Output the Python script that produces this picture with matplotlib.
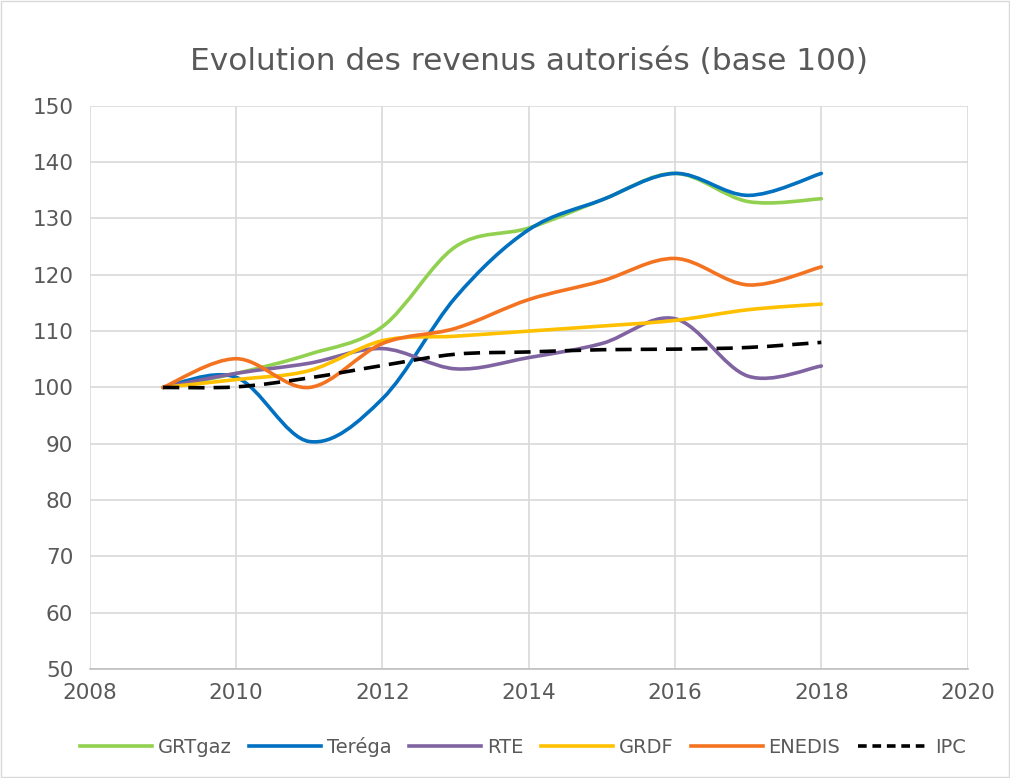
import matplotlib
matplotlib.use("Agg")
import matplotlib.pyplot as plt
import numpy as np
from matplotlib.lines import Line2D
from matplotlib.patches import PathPatch
from matplotlib.path import Path

years = [2009, 2010, 2011, 2012, 2013, 2014, 2015, 2016, 2017, 2018]
grtgaz = [100, 102.5, 105.9, 110.8, 125.0, 128.3, 133.3, 138.0, 133.0, 133.5]
terega = [100, 101.8, 90.4, 98.0, 116.0, 128.0, 133.3, 138.0, 134.1, 138.0]
rte = [100, 102.5, 104.3, 106.9, 103.3, 105.3, 107.8, 112.2, 102.0, 103.8]
grdf = [100, 101.4, 103.0, 108.3, 109.1, 110.0, 110.9, 111.9, 113.8, 114.8]
enedis = [100, 105.1, 100.0, 107.8, 110.5, 115.6, 118.9, 122.9, 118.2, 121.4]
ipc = [100, 100.1, 101.7, 103.9, 105.9, 106.3, 106.7, 106.8, 107.1, 108.0]

series = [
    ("GRTgaz", grtgaz, "#92d050", "-"),
    ("Teréga", terega, "#0070c0", "-"),
    ("RTE", rte, "#8064a2", "-"),
    ("GRDF", grdf, "#ffc000", "-"),
    ("ENEDIS", enedis, "#f47321", "-"),
    ("IPC", ipc, "#000000", "--"),
]

plt.rcParams["font.family"] = ["DejaVu Sans"]
text_color = "#595959"


def smooth_path(xs, ys):
    # Excel-style smoothed line: cubic Bezier segments with control points from neighbours
    pts = np.column_stack([xs, ys]).astype(float)
    n = len(pts)
    verts = [pts[0]]
    codes = [Path.MOVETO]
    for i in range(n - 1):
        p0 = pts[i - 1] if i > 0 else pts[i]
        p1 = pts[i]
        p2 = pts[i + 1]
        p3 = pts[i + 2] if i + 2 < n else pts[i + 1]
        c1 = p1 + (p2 - p0) / 6
        c2 = p2 - (p3 - p1) / 6
        verts += [c1, c2, p2]
        codes += [Path.CURVE4] * 3
    return Path(verts, codes)


fig = plt.figure(figsize=(10.1, 7.78), dpi=100)
ax = fig.add_axes([0.089, 0.14, 0.869, 0.724])

handles = []
for name, vals, color, ls in series:
    patch = PathPatch(smooth_path(years, vals), facecolor="none", edgecolor=color,
                      linewidth=2.6, capstyle="round", zorder=3)
    if ls == "--":
        patch.set_linestyle((0, (4.5, 2.5)))
        patch.set_capstyle("butt")
    ax.add_patch(patch)
    h = Line2D([], [], color=color, linewidth=2.6,
               linestyle=(0, (2.4, 1.6)) if ls == "--" else "-")
    handles.append(h)

ax.set_xlim(2008, 2020)
ax.set_ylim(50, 150)
ax.set_xticks(np.arange(2008, 2021, 2))
ax.set_yticks(np.arange(50, 151, 10))
ax.grid(True, color="#d9d9d9", linewidth=1.2)
ax.set_axisbelow(True)
for side in ["left", "right", "top"]:
    ax.spines[side].set_visible(False)
ax.spines["bottom"].set_color("#bfbfbf")
ax.spines["bottom"].set_linewidth(1.2)
ax.tick_params(axis="both", length=0, labelsize=15.5, colors=text_color, pad=10)
ax.tick_params(axis="y", pad=12)

ax.set_title("Evolution des revenus autorisés (base 100)", fontsize=22.5,
             color=text_color, pad=26)

fig.legend(handles, [s[0] for s in series], loc="center", bbox_to_anchor=(0.518, 0.04),
           ncol=6, frameon=False, fontsize=14, labelcolor=text_color,
           handlelength=3.7, handletextpad=0.3, columnspacing=0.9)

fig.patches.append(plt.Rectangle((0.001, 0.001), 0.998, 0.998, transform=fig.transFigure,
                                 fill=False, edgecolor="#d9d9d9", linewidth=1))

fig.savefig("out.png", dpi=100)
